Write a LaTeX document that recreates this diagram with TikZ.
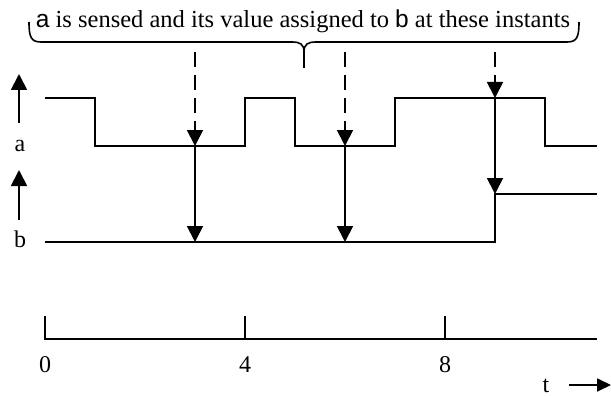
\documentclass[tikz,border=0pt]{standalone}
\usepackage{fontspec}
\setmainfont{Liberation Serif}
\newfontfamily\sansf{Liberation Sans}
\usetikzlibrary{arrows.meta}
\begin{document}
\begin{tikzpicture}[x=1pt,y=-1pt,
  sig/.style={line width=1.8pt,line join=miter},
  arr/.style={line width=1.8pt,-{Triangle[width=16pt,length=16pt]}},
  darr/.style={arr,dash pattern=on 15pt off 8pt},
  lbl/.style={font=\fontsize{24}{26}\selectfont,inner sep=0pt}]
\useasboundingbox (0,0) rectangle (611,396);
% signal a
\draw[sig] (45,98) -- (95,98) -- (95,146) -- (245,146) -- (245,98) -- (295,98) -- (295,146) -- (395,146) -- (395,98) -- (545,98) -- (545,146) -- (597,146);
% signal b
\draw[sig] (45,242) -- (495,242) -- (495,194) -- (597,194);
% sampling points
\coordinate (d1) at (195,52); \coordinate (a1) at (195,146); \coordinate (b1) at (195,242);
\coordinate (d2) at (345,52); \coordinate (a2) at (345,146); \coordinate (b2) at (345,242);
\coordinate (d3) at (495,52); \coordinate (a3) at (495,98);  \coordinate (b3) at (495,194);
\foreach \i in {1,2,3}{
  \draw[darr] (d\i) -- (a\i);
  \draw[arr] (a\i) -- (b\i);
}
% left axis arrows
\coordinate (ya0) at (19,123); \coordinate (ya1) at (19,74);
\coordinate (yb0) at (19,220); \coordinate (yb1) at (19,170);
\draw[arr] (ya0) -- (ya1);
\draw[arr] (yb0) -- (yb1);
\node[lbl,anchor=base] (la) at (20,151) {a};
\node[lbl,anchor=base] (lb) at (20,247) {b};
% time axis
\draw[sig] (45,316) -- (45,339) -- (597,339);
\draw[sig] (245,316) -- (245,339);
\draw[sig] (445,316) -- (445,339);
\node[lbl,anchor=base] (t0) at (45,372) {0};
\node[lbl,anchor=base] (t4) at (245,372) {4};
\node[lbl,anchor=base] (t8) at (445,372) {8};
\node[lbl,anchor=base] (tt) at (546,392) {t};
\coordinate (ts) at (569,385); \coordinate (te) at (611,385);
\draw[arr,-{Triangle[width=13pt,length=14pt]}] (ts) -- (te);
% brace
\draw[line width=1.6pt] (29,22) .. controls (29,37) and (31,42) .. (41,42) -- (292,42)
  .. controls (300,42) and (304,44) .. (304,52) -- (304,68);
\draw[line width=1.6pt] (579,22) .. controls (579,37) and (577,42) .. (567,42) -- (316,42)
  .. controls (308,42) and (304,44) .. (304,52);
\node[font=\fontsize{24.5}{26}\selectfont,inner sep=0pt,anchor=base] (cap) at (303,28)
  {{\sansf a} is sensed and its value assigned to {\sansf b} at these instants};
\end{tikzpicture}
\end{document}
